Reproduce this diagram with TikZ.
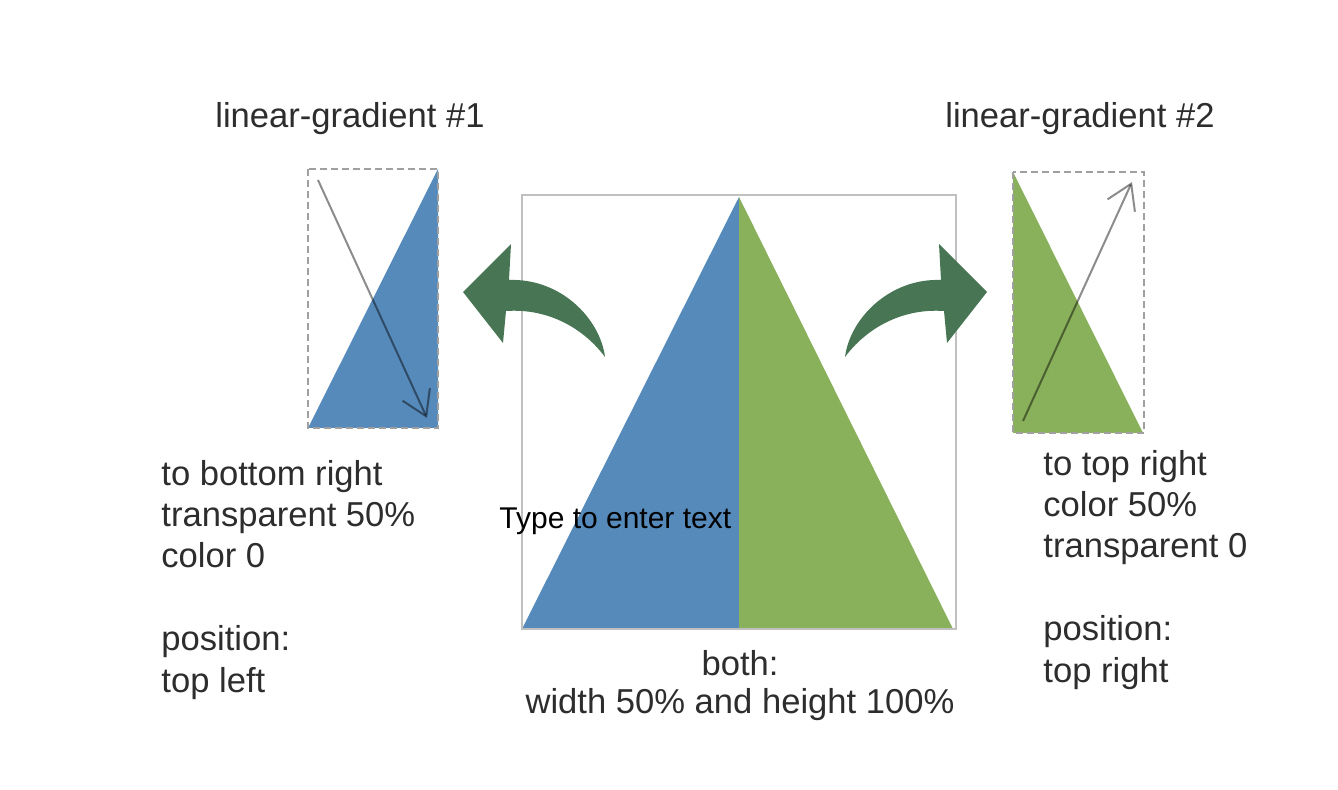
\documentclass[tikz,border=0pt]{standalone}
\usepackage{fontspec}
\setmainfont{Liberation Sans}
\usepackage{xcolor}
\usetikzlibrary{arrows.meta,positioning}

\definecolor{gradblue}{RGB}{86,138,187}
\definecolor{gradgreen}{RGB}{137,176,90}
\definecolor{bendgreen}{RGB}{72,118,84}
\definecolor{framegray}{RGB}{192,192,192}
\definecolor{dashgray}{RGB}{160,160,160}
\definecolor{textgray}{RGB}{45,45,45}

\tikzset{
  labeltext/.style={font=\fontsize{17.3}{20.7}\selectfont, text=textgray, inner sep=0pt},
  dirbox/.style={draw=dashgray, line width=1.3pt, dash pattern=on 3.5pt off 2pt},
  dirarrow/.style={draw=black!45, line width=1pt, -{Straight Barb[length=12pt,width=15pt]}},
  bendarrow/.style={fill=bendgreen, draw=none}
}

\begin{document}
\begin{tikzpicture}[x=0.5pt,y=-0.5pt]
\useasboundingbox (0,0) rectangle (1338,790);

% Middle box with both triangles
\fill [gradblue] (522,629) -- (739,197) -- (739,629) -- cycle;
\fill [gradgreen] (739,197) -- (953,629) -- (739,629) -- cycle;
\draw [framegray, line width=1.3pt] (522,195) rectangle (956,629);

% Left-hand box
\fill [gradblue] (308,428) -- (438,428) -- (438,169) -- cycle;
\draw [dirbox] (308,169) rectangle (438,428);
\coordinate (tlstart) at (318,180);
\coordinate (tlend) at (427,418);
\begin{scope}[blend mode=multiply]
\draw [dirarrow] (tlstart) -- (tlend);
\end{scope}

% Right-hand box
\fill [gradgreen] (1013,172) -- (1013,433) -- (1143,433) -- cycle;
\draw [dirbox] (1013,172) rectangle (1144,433);
\coordinate (trstart) at (1023,421);
\coordinate (trend) at (1132,182);
\begin{scope}[blend mode=multiply]
\draw [dirarrow] (trstart) -- (trend);
\end{scope}

% bent arrows
\fill [bendarrow] (463,292) -- (511,244) -- (509,280)
  .. controls (560,278) and (600,318) .. (605,357)
  .. controls (585,330) and (550,308) .. (506,311) -- (503,343) -- cycle;
\fill [bendarrow] (987,292) -- (939,244) -- (941,280)
  .. controls (890,278) and (850,318) .. (845,357)
  .. controls (865,330) and (900,308) .. (944,311) -- (947,343) -- cycle;

% texts (base = last line)
\node (titleleft) [labeltext, anchor=base] at (350,128) {linear-gradient \#1};
\node (titleright) [labeltext, anchor=base] at (1080,128) {linear-gradient \#2};
\node (infoleft) [labeltext, anchor=base west, align=left] at (161,692)
  {to bottom right\\transparent 50\%\\color 0\\[20.7pt]position:\\top left};
\node (inforight) [labeltext, anchor=base west, align=left] at (1043,682)
  {to top right\\color 50\%\\transparent 0\\[20.7pt]position:\\top right};
\node (infoboth) [labeltext, anchor=base, align=center,
  font=\fontsize{17.3}{19}\selectfont] at (740,713)
  {both:\\width 50\% and height 100\%};
\node (typehint) [anchor=base west, inner sep=0pt,
  font=\fontsize{15}{18}\selectfont] at (499,529) {Type to enter text};
\end{tikzpicture}
\end{document}
